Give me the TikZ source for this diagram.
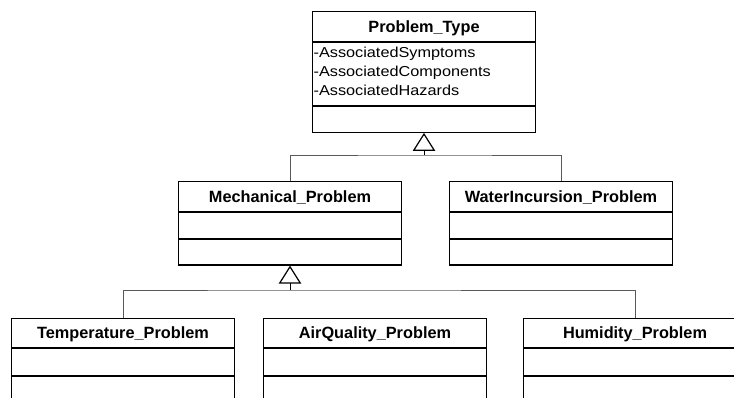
\documentclass[tikz,border=0pt]{standalone}
\usepackage{fontspec}
\setmainfont{Liberation Sans}
\newfontfamily\memberfont{Liberation Sans}[FakeStretch=1.13]
\usetikzlibrary{arrows.meta}
\begin{document}
\begin{tikzpicture}[x=1pt,y=-1pt,
  box/.style={draw=black, line width=1.2pt, minimum width=223.4pt, inner sep=0pt, anchor=north},
  classname/.style={box, minimum height=29.7pt, font=\bfseries\fontsize{16.3}{19}\selectfont, text height=11.7pt, text depth=0pt},
  section/.style={box, minimum height=#1},
  member/.style={anchor=base west, inner sep=0pt, font=\memberfont\fontsize{14.4}{18.8}\selectfont},
  inherit/.style={draw=black, line width=1pt, -{Triangle[open, width=22.4pt, length=18pt, line width=1.2pt]}},
  branch/.style={draw=black!65, line width=1pt},
]
\clip (0,0) rectangle (734,397);

% root class
\node[classname] (pt) at (424,11) {Problem\_Type};
\node[section=62.6pt] (pt-attr) at (pt.south) {};
\node[section=26pt] (pt-ops) at (pt-attr.south) {};
\node[member] (pt-a1) at (313.4,57.3) {-AssociatedSymptoms};
\node[member] (pt-a2) at (313.4,76.1) {-AssociatedComponents};
\node[member] (pt-a3) at (313.4,95) {-AssociatedHazards};

% second level
\node[classname] (mech) at (290,181) {Mechanical\_Problem};
\node[section=25.7pt] (mech-attr) at (mech.south) {};
\node[section=25.6pt] (mech-ops) at (mech-attr.south) {};

\node[classname] (water) at (561,181) {WaterIncursion\_Problem};
\node[section=25.7pt] (water-attr) at (water.south) {};
\node[section=25.6pt] (water-ops) at (water-attr.south) {};

% third level
\node[classname, minimum height=29pt] (temp) at (123,317.7) {Temperature\_Problem};
\node[section=26.6pt] (temp-attr) at (temp.south) {};
\node[section=30pt] (temp-ops) at (temp-attr.south) {};

\node[classname, minimum height=29pt] (air) at (375,317.7) {AirQuality\_Problem};
\node[section=26.6pt] (air-attr) at (air.south) {};
\node[section=30pt] (air-ops) at (air-attr.south) {};

\node[classname, minimum height=29pt] (hum) at (635,317.7) {Humidity\_Problem};
\node[section=26.6pt] (hum-attr) at (hum.south) {};
\node[section=30pt] (hum-ops) at (hum-attr.south) {};

% generalization: Problem_Type
\coordinate (j1) at (424,155);
\draw[branch] (mech.north) |- (j1) -| (water.north);
\draw[inherit] (j1) -- (pt-ops.south);

% generalization: Mechanical_Problem
\coordinate (j2) at (290,290);
\draw[branch] (temp.north) |- (j2) -| (hum.north);
\draw[inherit] (j2) -- (mech-ops.south);
\end{tikzpicture}
\end{document}
